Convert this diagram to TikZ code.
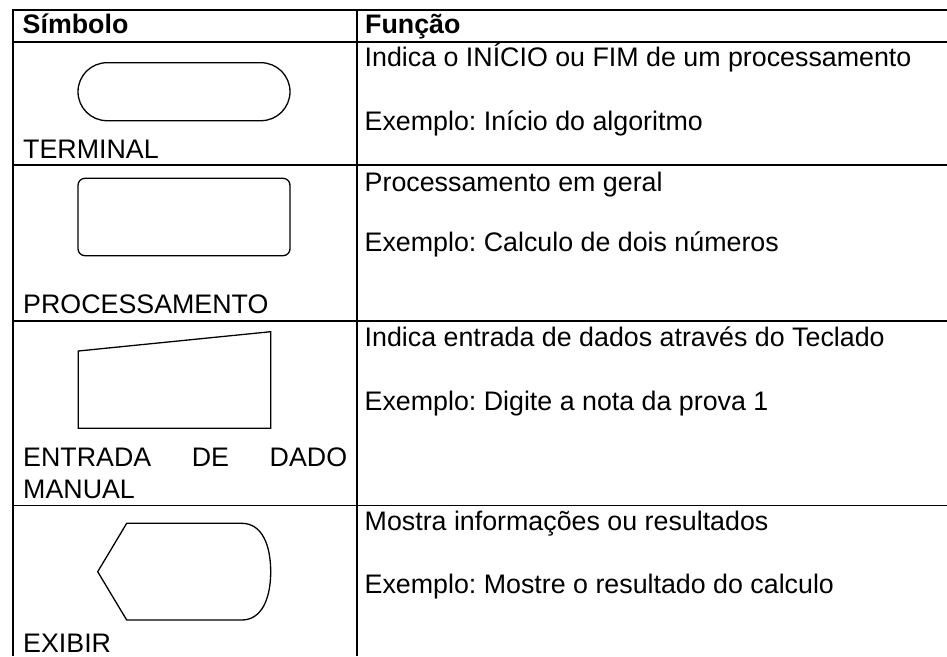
\documentclass[tikz,border=0pt]{standalone}
\usepackage{fontspec}
\setmainfont{Liberation Sans}
\usepackage{tikz}
\usetikzlibrary{positioning}
\frenchspacing

\begin{document}
\begin{tikzpicture}[x=1pt,y=-1pt,
	rule/.style={line width=1.9pt},
	symbol/.style={line width=1.3pt},
	txt/.style={anchor=base west,inner sep=0pt,font=\fontsize{26.8}{30}\selectfont},
	head/.style={txt,font=\fontsize{26.8}{30}\selectfont\bfseries}]
	\useasboundingbox (0,0) rectangle (947,656);
	% the table rules
	\draw[rule] (13,10) -- (947,10);
	\draw[rule] (13,42) -- (947,42);
	\draw[rule] (13,165) -- (947,165);
	\draw[rule] (13,321) -- (947,321);
	\draw[rule] (13,505.5) -- (947,505.5);
	\draw[rule] (13,9.1) -- (13,656);
	\draw[rule] (357,9.1) -- (357,656);
	%% the header
	\node[head] (simbolo) at (22.5,33) {Símbolo};
	\node[head] (funcao) at (365,33) {Função};
	%% terminal
	\draw[symbol,rounded corners=29pt] (78,62.7) rectangle (290,120.7);
	\node[txt] (terminal) at (23,158) {TERMINAL};
	\node[txt] (inicio) at (364.5,66.7) {Indica o INÍCIO ou FIM de um processamento};
	\node[txt] (exinicio) at (364.5,130) {Exemplo: Início do algoritmo};
	%% processamento
	\draw[symbol,rounded corners=7pt] (78,178.3) rectangle (290,255.7);
	\node[txt] (processamento) at (23,313.3) {PROCESSAMENTO};
	\node[txt] (geral) at (364.5,191.7) {Processamento em geral};
	\node[txt] (excalculo) at (364.5,251.7) {Exemplo: Calculo de dois números};
	%% entrada de dado manual
	\draw[symbol] (78.3,351) -- (270.7,331.7) -- (270.7,428.3) -- (78.3,428.3) -- cycle;
	\node[txt] (entrada) at (23,466.7) {\makebox[324pt][s]{ENTRADA DE DADO}};
	\node[txt] (manual) at (23,498.3) {MANUAL};
	\node[txt] (teclado) at (364.5,346) {Indica entrada de dados através do Teclado};
	\node[txt] (exnota) at (364.5,410) {Exemplo: Digite a nota da prova 1};
	%% exibir
	\draw[symbol] (97.7,571.7) -- (126.7,523.3) -- (241.7,523.3)
	.. controls (262,523.3) and (270.7,545) .. (270.7,571.7)
	.. controls (270.7,598) and (262,620) .. (241.7,620) -- (126.7,620) -- cycle;
	\node[txt] (exibir) at (23,652) {EXIBIR};
	\node[txt] (mostra) at (364.5,530) {Mostra informações ou resultados};
	\node[txt] (exmostre) at (364.5,593) {Exemplo: Mostre o resultado do calculo};
\end{tikzpicture}
\end{document}
